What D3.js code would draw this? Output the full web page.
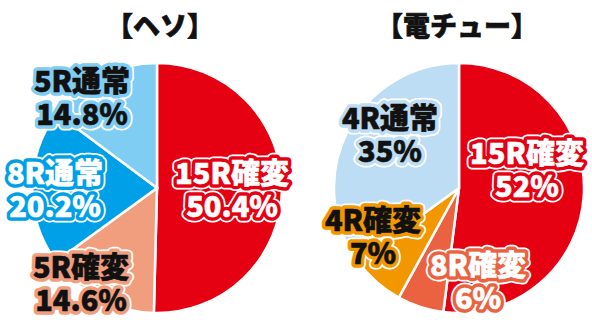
<!DOCTYPE html>
<html>
<head>
<meta charset="utf-8">
<script src="https://cdn.jsdelivr.net/npm/d3@7"></script>
<style>
  html, body { margin: 0; padding: 0; background: #fff; }
  svg { display: block; }
</style>
</head>
<body>
<script>
// Round-type shares for the two start pockets
const titles = ["【ヘソ】", "【電チュー】"];

const hesoLabels = ["15R確変", "5R確変", "8R通常", "5R通常"];
const hesoValues = [50.4, 14.6, 20.2, 14.8];

const denchuLabels = ["15R確変", "8R確変", "4R確変", "4R通常"];
const denchuValues = [52, 6, 7, 35];

// Styling and label placement (offsets from each pie's centre)
const W = 592, H = 328;
const radius = 125;
const FONT = "'Noto Sans CJK JP', 'Noto Sans', sans-serif";

const charts = [
  {
    title: titles[0],
    labels: hesoLabels,
    values: hesoValues,
    cx: 157, cy: 188, titleX: 160,
    colors: ["#E50012", "#F19E7E", "#00A0E9", "#80CDF3"],
    textColors: ["#fff", "#111", "#fff", "#111"],
    offsets: [[75, -14], [-76, 80], [-102, -14], [-75, -106]]
  },
  {
    title: titles[1],
    labels: denchuLabels,
    values: denchuValues,
    cx: 459, cy: 188, titleX: 457,
    colors: ["#E50012", "#EA6240", "#F29700", "#BCDDF3"],
    textColors: ["#fff", "#fff", "#111", "#111"],
    offsets: [[68, -34], [19, 78], [-86, 33], [-69, -69]]
  }
];

const svg = d3.select("body").append("svg")
  .attr("width", W).attr("height", H)
  .attr("viewBox", `0 0 ${W} ${H}`);

const pie = d3.pie().sort(null).value(d => d)
  .startAngle(0).endAngle(2 * Math.PI);
const arc = d3.arc().innerRadius(0).outerRadius(radius);
const pct = v => `${v}%`;
const lineGap = 33;

charts.forEach(c => {
  // title
  svg.append("text")
    .attr("x", c.titleX).attr("y", 36)
    .attr("text-anchor", "middle")
    .attr("font-family", FONT)
    .attr("font-weight", 900)
    .attr("font-size", 27)
    .attr("fill", "#111")
    .attr("stroke", "#111")
    .attr("stroke-width", 0.7)
    .text(c.title);

  const g = svg.append("g").attr("transform", `translate(${c.cx},${c.cy})`);

  g.selectAll("path.slice")
    .data(pie(c.values))
    .join("path")
    .attr("class", "slice")
    .attr("d", arc)
    .attr("fill", (d, i) => c.colors[i])
    .attr("stroke", "#fff")
    .attr("stroke-width", 2.5);

  // outlined two-line labels: white rim, slice-coloured outline, then the text
  const lab = g.selectAll("g.label")
    .data(c.values)
    .join("g")
    .attr("class", "label")
    .attr("transform", (d, i) => `translate(${c.offsets[i][0]},${c.offsets[i][1]})`);

  const layers = [
    (t, i) => t.attr("fill", "#fff").attr("stroke", "#fff").attr("stroke-width", 11),
    (t, i) => t.attr("fill", c.colors[i]).attr("stroke", c.colors[i]).attr("stroke-width", 7.5),
    (t, i) => t.attr("fill", c.textColors[i]).attr("stroke", c.textColors[i]).attr("stroke-width", 0.6)
  ];

  lab.each(function (v, i) {
    const el = d3.select(this);
    const lines = [c.labels[i], pct(v)];
    layers.forEach(paint => {
      lines.forEach((t, k) => {
        const tx = el.append("text")
          .attr("x", 0)
          .attr("y", k * lineGap + 10)
          .attr("text-anchor", "middle")
          .attr("font-family", FONT)
          .attr("font-weight", 900)
          .attr("font-size", 29)
          .attr("stroke-linejoin", "round")
          .text(t);
        paint(tx, i);
      });
    });
  });
});
</script>
</body>
</html>
